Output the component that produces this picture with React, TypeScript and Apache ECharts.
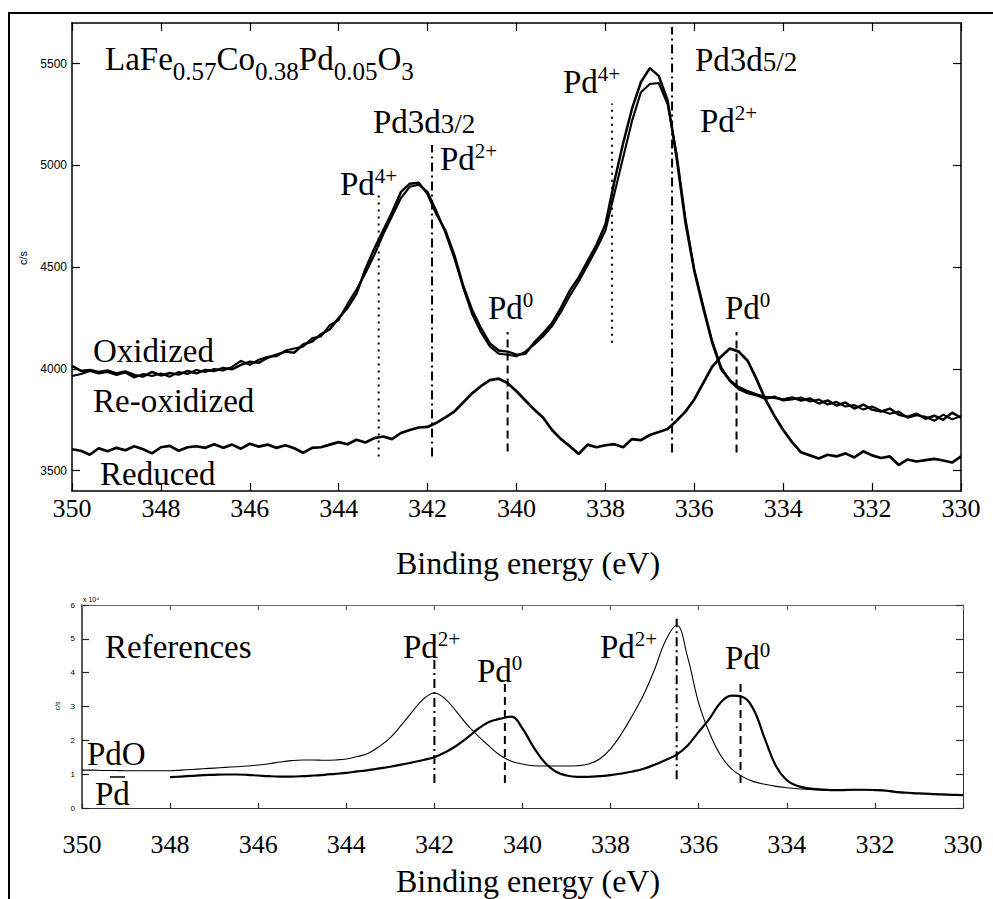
import React, { useEffect, useRef } from 'react';
import * as echarts from 'echarts';

const SERIF = "'Liberation Serif', 'Times New Roman', Times, serif";
const SANS = "'Liberation Sans', Arial, Helvetica, sans-serif";

// ---------- top panel: LaFe0.57Co0.38Pd0.05O3 (c/s), binding energy 350 -> 330 eV, step 0.2 ----------
const topEnergy: number[] = Array.from({ length: 101 }, (_, i) => +(350 - 0.2 * i).toFixed(1));

const oxidized = [
  4015, 3990, 3995, 3985, 3992, 3978, 3988, 3970, 3962, 3985,
  3968, 3980, 3972, 3990, 3978, 3995, 3990, 4005, 3998, 4020,
  4035, 4030, 4055, 4070, 4085, 4080, 4120, 4135, 4170, 4195,
  4250, 4300, 4370, 4490, 4590, 4680, 4770, 4870, 4910, 4915,
  4860, 4760, 4680, 4560, 4410, 4290, 4200, 4125, 4090, 4085,
  4070, 4075, 4130, 4175, 4225, 4300, 4385, 4450, 4530, 4610,
  4710, 4920, 5110, 5280, 5410, 5478, 5440, 5320, 5040, 4720,
  4480, 4300, 4130, 4000, 3945, 3910, 3890, 3875, 3862, 3858,
  3850, 3860, 3845, 3855, 3830, 3845, 3820, 3835, 3805, 3825,
  3800, 3790, 3805, 3775, 3765, 3780, 3755, 3770, 3750, 3785,
  3760,
];

const reOxidized = [
  3965, 3975, 3990, 3978, 3985, 3970, 3982, 3958, 3975, 3965,
  3978, 3962, 3985, 3975, 3995, 3985, 4000, 3992, 4010, 4040,
  4020, 4045, 4060, 4062, 4090, 4100, 4110, 4150, 4160, 4215,
  4240, 4320, 4390, 4470, 4560, 4660, 4750, 4840, 4895, 4905,
  4870, 4775, 4670, 4545, 4400, 4270, 4180, 4110, 4075, 4070,
  4062, 4085, 4120, 4160, 4210, 4280, 4360, 4430, 4510, 4590,
  4680, 4860, 5040, 5220, 5360, 5400, 5405, 5300, 5060, 4740,
  4490, 4310, 4140, 4010, 3940, 3900, 3880, 3870, 3852, 3865,
  3845, 3850, 3860, 3840, 3850, 3825, 3838, 3815, 3822, 3800,
  3815, 3795, 3780, 3790, 3760, 3772, 3765, 3745, 3775, 3752,
  3768,
];

const reduced = [
  3605, 3598, 3578, 3610, 3595, 3612, 3600, 3620, 3605, 3585,
  3615, 3622, 3598, 3615, 3620, 3612, 3630, 3612, 3628, 3608,
  3632, 3618, 3628, 3612, 3625, 3610, 3588, 3612, 3615, 3628,
  3640, 3630, 3652, 3638, 3660, 3668, 3655, 3685, 3700, 3712,
  3715, 3735, 3762, 3790, 3835, 3880, 3915, 3945, 3952, 3930,
  3890, 3845, 3800, 3760, 3700, 3655, 3620, 3582, 3628, 3615,
  3625, 3630, 3615, 3655, 3650, 3675, 3690, 3705, 3745, 3790,
  3850, 3930, 4010, 4060, 4100, 4085, 4040, 3950, 3850, 3770,
  3700, 3640, 3590, 3575, 3560, 3578, 3570, 3585, 3565, 3595,
  3575, 3562, 3570, 3528, 3555, 3545, 3552, 3558, 3550, 3540,
  3570,
];

// vertical reference lines, top panel
const topMarkE = [343.1, 341.9, 340.2, 337.85, 336.5, 335.05];
const topMarkLo = [3570, 3570, 3594, 4128, 3589, 3589];
const topMarkHi = [4860, 5100, 4182, 5304, 5680, 4182];
const topMarkKind = ['dotted', 'dashdot', 'dashed', 'dotted', 'dashdot', 'dashed'];

// ---------- bottom panel: references (c/s x 10^4), step 0.25 ----------
const refEnergy: number[] = Array.from({ length: 81 }, (_, i) => 350 - 0.25 * i);

const pdO = [
  1.12, 1.12, 1.11, 1.11, 1.10, 1.10, 1.10, 1.10, 1.10, 1.12,
  1.14, 1.16, 1.18, 1.20, 1.22, 1.24, 1.27, 1.31, 1.36, 1.40,
  1.42, 1.42, 1.41, 1.42, 1.45, 1.52, 1.62, 1.82, 2.08, 2.45,
  2.85, 3.22, 3.40, 3.22, 2.85, 2.45, 2.12, 1.82, 1.55, 1.38,
  1.30, 1.25, 1.24, 1.24, 1.24, 1.25, 1.30, 1.45, 1.75, 2.20,
  2.75, 3.35, 4.10, 4.95, 5.40, 4.45, 3.10, 2.20, 1.55, 1.15,
  0.92, 0.78, 0.70, 0.64, 0.60, 0.57, 0.55, 0.53, 0.52, 0.52,
  0.53, 0.54, 0.54, 0.52, 0.48, 0.45, 0.43, 0.42, 0.40, 0.39,
  0.38,
];

// metallic Pd reference starts at 348 eV
const pdMetal = [
  0.91, 0.93, 0.95, 0.97, 0.98, 0.99, 0.99, 0.98, 0.96, 0.94,
  0.93, 0.93, 0.94, 0.96, 0.98, 1.01, 1.04, 1.08, 1.12, 1.17,
  1.22, 1.28, 1.35, 1.42, 1.50, 1.65, 1.84, 2.08, 2.35, 2.55,
  2.64, 2.70, 2.35, 1.80, 1.35, 1.08, 0.96, 0.92, 0.92, 0.94,
  0.97, 1.02, 1.08, 1.16, 1.28, 1.42, 1.58, 1.85, 2.25, 2.65,
  3.12, 3.32, 3.28, 2.90, 2.05, 1.25, 0.82, 0.65, 0.58, 0.55,
  0.53, 0.53, 0.54, 0.54, 0.53, 0.51, 0.47, 0.45, 0.43, 0.42,
  0.40, 0.39, 0.38,
];

const refMarkE = [342.0, 340.4, 336.5, 335.05];
const refMarkLo = [0.74, 0.74, 0.85, 0.74];
const refMarkHi = [4.47, 3.74, 5.59, 3.68];
const refMarkKind = ['dashdot', 'dashed', 'dashdot', 'dashed'];

// ticks
const xTicks = [330, 332, 334, 336, 338, 340, 342, 344, 346, 348, 350];
const yTicksTop = [3500, 4000, 4500, 5000, 5500];
const yTicksRef = [0, 1, 2, 3, 4, 5, 6];

const dashFor = (k: string) => (k === 'dotted' ? [2, 5] : k === 'dashed' ? [8, 5] : [9, 4, 2, 4]);

const L = 50;
const rich: any = {
  m: { fontFamily: SERIF, fontSize: 33, fill: '#000' },
  sub: { fontFamily: SERIF, fontSize: 25, fill: '#000', height: L - 24, verticalAlign: 'bottom' },
  sup: { fontFamily: SERIF, fontSize: 21, fill: '#000', height: L - 16, verticalAlign: 'top' },
  frac: { fontFamily: SERIF, fontSize: 27, fill: '#000', height: L - 4, verticalAlign: 'bottom' },
};

const lab = (x: number, y: number, text: string) => ({
  type: 'text',
  x,
  y,
  silent: true,
  style: {
    text,
    rich,
    lineHeight: L,
    fontFamily: SERIF,
    fontSize: 33,
    fill: '#000',
    align: 'left',
    verticalAlign: 'middle',
    textAlign: 'left',
    textVerticalAlign: 'middle',
  },
});

const smallText = (x: number, y: number, text: string, size: number, rotate = 0, align = 'center') => ({
  type: 'text',
  x,
  y,
  rotation: rotate,
  silent: true,
  style: {
    text,
    fontFamily: SANS,
    fontSize: size,
    fill: '#000',
    align,
    verticalAlign: 'middle',
    textAlign: align,
    textVerticalAlign: 'middle',
  },
});

const plain = (v: number) => String(v);

function xAxisDef(gridIndex: number, position: string, showLabel: boolean, tickLen: number, margin: number, lw: number, color: string) {
  return {
    type: 'value',
    gridIndex,
    position,
    min: 330,
    max: 350,
    interval: 2,
    inverse: true,
    axisLine: { show: true, onZero: false, lineStyle: { color, width: lw } },
    axisTick: { show: true, inside: true, length: tickLen, customValues: xTicks, lineStyle: { color, width: 1.2 } },
    axisLabel: {
      show: showLabel,
      customValues: xTicks,
      formatter: plain,
      fontFamily: SERIF,
      fontSize: 26,
      color: '#000',
      margin,
      showMinLabel: true,
      showMaxLabel: true,
    },
    splitLine: { show: false },
  };
}

function yAxisDef(gridIndex: number, position: string, showLabel: boolean, min: number, max: number, ticks: number[], tickLen: number, margin: number, lw: number, color: string, fontSize: number) {
  return {
    type: 'value',
    gridIndex,
    position,
    min,
    max,
    axisLine: { show: true, onZero: false, lineStyle: { color, width: lw } },
    axisTick: { show: true, inside: true, length: tickLen, customValues: ticks, lineStyle: { color, width: 1.2 } },
    axisLabel: {
      show: showLabel,
      customValues: ticks,
      formatter: plain,
      fontFamily: SANS,
      fontSize,
      color: '#000',
      margin,
      showMinLabel: true,
      showMaxLabel: true,
    },
    splitLine: { show: false },
  };
}

export default function App() {
  const ref = useRef<HTMLDivElement>(null);

  useEffect(() => {
    if (!ref.current) return;
    const chart = echarts.init(ref.current, null, { renderer: 'svg' });

    const curve = (xs: number[], ys: number[], xi: number, yi: number, width: number, smooth: any, z = 3) => ({
      type: 'line',
      xAxisIndex: xi,
      yAxisIndex: yi,
      data: ys.map((v, i) => [xs[i], v]),
      symbol: 'none',
      showSymbol: false,
      smooth,
      silent: true,
      z,
      lineStyle: { color: '#000', width },
    });

    const markers = (es: number[], lo: number[], hi: number[], kinds: string[], xi: number, yi: number) =>
      es.map((e, k) => ({
        type: 'line',
        xAxisIndex: xi,
        yAxisIndex: yi,
        data: [
          [e, lo[k]],
          [e, hi[k]],
        ],
        symbol: 'none',
        showSymbol: false,
        silent: true,
        z: 2,
        lineStyle: { color: '#000', width: 2, type: dashFor(kinds[k]) },
      }));

    const option: any = {
      animation: false,
      backgroundColor: '#fff',
      grid: [
        { left: 72, top: 23, width: 889, height: 468 },
        { left: 82, top: 605, width: 881, height: 203 },
      ],
      xAxis: [
        xAxisDef(0, 'bottom', true, 8, 4, 1.5, '#000'),
        xAxisDef(0, 'top', false, 8, 4, 1.5, '#000'),
        xAxisDef(1, 'bottom', true, 5, 23, 1, '#333'),
        xAxisDef(1, 'top', false, 5, 4, 1, '#666'),
      ],
      yAxis: [
        yAxisDef(0, 'left', true, 3400, 5700, yTicksTop, 8, 5, 1.5, '#000', 12),
        yAxisDef(0, 'right', false, 3400, 5700, yTicksTop, 8, 5, 1.5, '#000', 12),
        yAxisDef(1, 'left', true, 0, 6, yTicksRef, 7, 7, 1.5, '#222', 8),
        yAxisDef(1, 'right', false, 0, 6, yTicksRef, 7, 7, 1, '#333', 8),
      ],
      series: [
        ...markers(topMarkE, topMarkLo, topMarkHi, topMarkKind, 0, 0),
        curve(topEnergy, reduced, 0, 0, 2.7, false),
        curve(topEnergy, reOxidized, 0, 0, 2.1, false),
        curve(topEnergy, oxidized, 0, 0, 2.5, false),
        ...markers(refMarkE, refMarkLo, refMarkHi, refMarkKind, 2, 2),
        curve(refEnergy, pdO, 2, 2, 1.1, 0.4),
        curve(refEnergy.slice(8), pdMetal, 2, 2, 2.2, 0.4),
      ],
      graphic: [
        // outer frame
        { type: 'line', silent: true, shape: { x1: 8, y1: 13, x2: 993, y2: 13 }, style: { stroke: '#000', lineWidth: 2 } },
        { type: 'line', silent: true, shape: { x1: 9, y1: 12, x2: 9, y2: 899 }, style: { stroke: '#000', lineWidth: 2 } },

        // top panel labels
        lab(105, 59, '{m|LaFe}{sub|0.57}{m|Co}{sub|0.38}{m|Pd}{sub|0.05}{m|O}{sub|3}'),
        lab(373, 122, '{m|Pd3d}{frac|3/2}'),
        lab(340, 184, '{m|Pd}{sup|4+}'),
        lab(440, 159, '{m|Pd}{sup|2+}'),
        lab(488, 308, '{m|Pd}{sup|0}'),
        lab(563, 82, '{m|Pd}{sup|4+}'),
        lab(695, 60, '{m|Pd3d}{frac|5/2}'),
        lab(700, 121, '{m|Pd}{sup|2+}'),
        lab(725, 308, '{m|Pd}{sup|0}'),
        lab(93, 351, '{m|Oxidized}'),
        lab(93, 401, '{m|Re-oxidized}'),
        lab(100, 474, '{m|Reduced}'),
        {
          type: 'text', silent: true, x: 528, y: 563,
          style: { text: 'Binding energy (eV)', fontFamily: SERIF, fontSize: 32, fill: '#000', align: 'center', verticalAlign: 'middle', textAlign: 'center', textVerticalAlign: 'middle' },
        },
        smallText(23, 258, 'c/s', 11, Math.PI / 2),

        // bottom panel labels
        lab(105, 647, '{m|References}'),
        lab(403, 647, '{m|Pd}{sup|2+}'),
        lab(477, 671, '{m|Pd}{sup|0}'),
        lab(600, 647, '{m|Pd}{sup|2+}'),
        lab(725, 658, '{m|Pd}{sup|0}'),
        lab(87, 754, '{m|PdO}'),
        lab(95, 794, '{m|Pd}'),
        { type: 'line', silent: true, shape: { x1: 110, y1: 777, x2: 125, y2: 777 }, style: { stroke: '#000', lineWidth: 1.5 } },
        {
          type: 'text', silent: true, x: 528, y: 881,
          style: { text: 'Binding energy (eV)', fontFamily: SERIF, fontSize: 32, fill: '#000', align: 'center', verticalAlign: 'middle', textAlign: 'center', textVerticalAlign: 'middle' },
        },
        smallText(57, 706, 'c/s', 7, Math.PI / 2),
        smallText(83, 599, 'x 10\u2074', 7, 0, 'left'),
      ],
    };

    chart.setOption(option);
    return () => chart.dispose();
  }, []);

  return (
    <div
      ref={ref}
      style={{ position: 'absolute', left: 0, top: 0, width: 993, height: 899, background: '#fff' }}
    />
  );
}
